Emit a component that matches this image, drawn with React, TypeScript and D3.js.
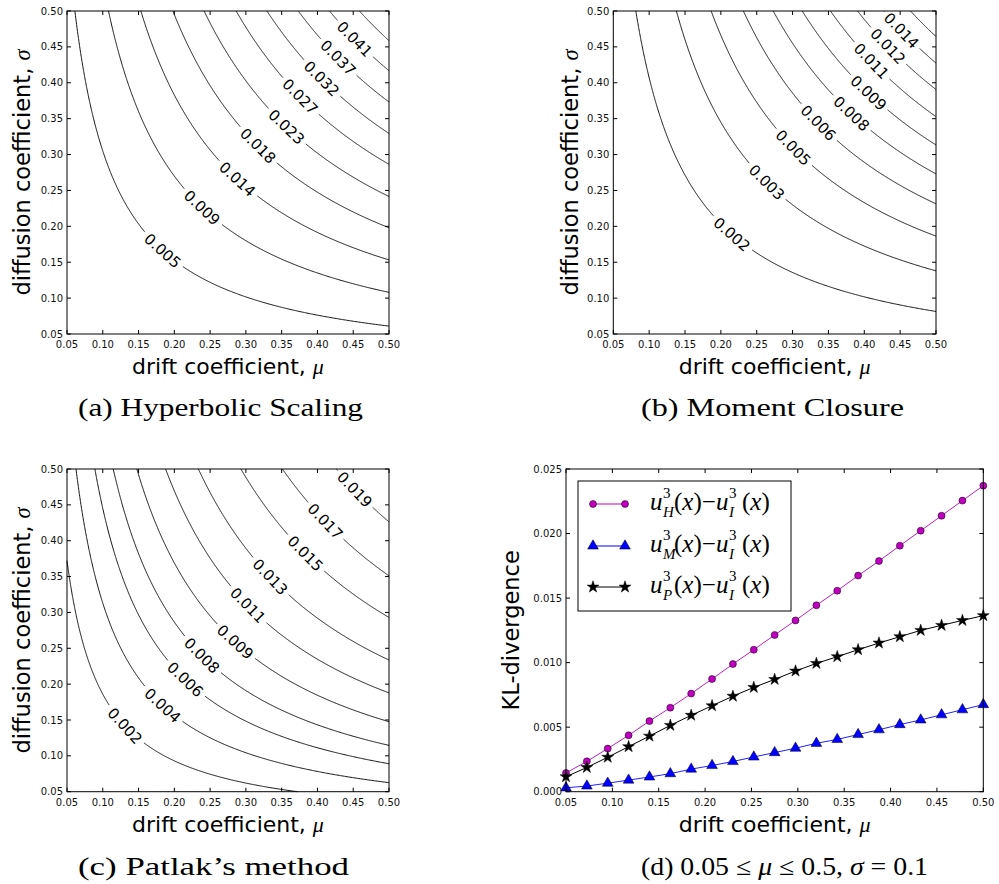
import React from 'react';
import * as d3 from 'd3';

// ---------- data ----------
const muTicks = [0.05, 0.1, 0.15, 0.2, 0.25, 0.3, 0.35, 0.4, 0.45, 0.5];
const sigmaTicks = [0.05, 0.1, 0.15, 0.2, 0.25, 0.3, 0.35, 0.4, 0.45, 0.5];
const tickLabels = ['0.05', '0.10', '0.15', '0.20', '0.25', '0.30', '0.35', '0.40', '0.45', '0.50'];

// contour levels expressed as the product mu*sigma along each iso-line
const hyperProducts = [0.0305, 0.054, 0.0766, 0.099, 0.1208, 0.1432, 0.1647, 0.1866, 0.2084, 0.2293];
const hyperLabels = ['0.005', '0.009', '0.014', '0.018', '0.023', '0.027', '0.032', '0.037', '0.041', ''];
const hyperLabelMu = [0.184, 0.239, 0.288, 0.317, 0.357, 0.376, 0.406, 0.429, 0.452, 0];

const momentProducts = [0.0407, 0.069, 0.0932, 0.1157, 0.1365, 0.1567, 0.1764, 0.1953, 0.2137, 0.2322];
const momentLabels = ['0.002', '0.003', '0.005', '0.006', '0.008', '0.009', '0.011', '0.012', '0.014', ''];
const momentLabelMu = [0.215, 0.264, 0.301, 0.336, 0.382, 0.406, 0.41, 0.433, 0.452, 0];

const patlakProducts = [0.0186, 0.0313, 0.0445, 0.0573, 0.0738, 0.0939, 0.1168, 0.1465, 0.1755, 0.2131];
const patlakLabels = ['0.002', '0.004', '0.006', '0.008', '0.009', '0.011', '0.013', '0.015', '0.017', '0.019'];
const patlakLabelMu = [0.131, 0.184, 0.215, 0.239, 0.285, 0.303, 0.334, 0.383, 0.411, 0.452];

// panel (d)
const klMu = [0.05, 0.0725, 0.095, 0.1175, 0.14, 0.1625, 0.185, 0.2075, 0.23, 0.2525, 0.275,
  0.2975, 0.32, 0.3425, 0.365, 0.3875, 0.41, 0.4325, 0.455, 0.4775, 0.5];
const klH = [0.00145, 0.00235, 0.00334, 0.00437, 0.00547, 0.00651, 0.0076, 0.00873, 0.00989, 0.011, 0.01214,
  0.01327, 0.01444, 0.01557, 0.01674, 0.01787, 0.01906, 0.02022, 0.02138, 0.02255, 0.02371];
const klM = [0.0003, 0.00044, 0.00066, 0.0009, 0.00114, 0.0014, 0.00175, 0.00203, 0.00234, 0.00269, 0.00303,
  0.00337, 0.00375, 0.00405, 0.00443, 0.0048, 0.0052, 0.00556, 0.00596, 0.00635, 0.00675];
const klP = [0.00116, 0.00188, 0.00267, 0.00349, 0.00431, 0.00514, 0.00592, 0.00666, 0.0074, 0.00808, 0.0087,
  0.00935, 0.00994, 0.01046, 0.011, 0.01152, 0.01201, 0.0125, 0.01289, 0.01327, 0.01364];
const klTicks = [0, 0.005, 0.01, 0.015, 0.02, 0.025];
const klTickLabels = ['0.000', '0.005', '0.010', '0.015', '0.020', '0.025'];
const legendSubs = ['H', 'M', 'P'];

const SANS = 'DejaVu Sans';
const SERIF = 'Liberation Serif';

type Box = { x0: number; x1: number; y0: number; y1: number };

function Frame({ b, xs, ys, xt, yt, xl, yl }: any) {
  const L = 4;
  return (
    <g>
      <rect x={b.x0} y={b.y0} width={b.x1 - b.x0} height={b.y1 - b.y0} fill="none" stroke="#000" strokeWidth={1} />
      {xt.map((t: number, i: number) => (
        <g key={'x' + i}>
          <line x1={xs(t)} x2={xs(t)} y1={b.y1} y2={b.y1 - L} stroke="#000" />
          <line x1={xs(t)} x2={xs(t)} y1={b.y0} y2={b.y0 + L} stroke="#000" />
          <text x={xs(t)} y={b.y1 + 14} fontFamily={SANS} fontSize={10} textAnchor="middle" fill="#111">{xl[i]}</text>
        </g>
      ))}
      {yt.map((t: number, i: number) => (
        <g key={'y' + i}>
          <line x1={b.x0} x2={b.x0 + L} y1={ys(t)} y2={ys(t)} stroke="#000" />
          <line x1={b.x1} x2={b.x1 - L} y1={ys(t)} y2={ys(t)} stroke="#000" />
          <text x={b.x0 - 4} y={ys(t) + 3.6} fontFamily={SANS} fontSize={10} textAnchor="end" fill="#111">{yl[i]}</text>
        </g>
      ))}
    </g>
  );
}

function ContourPanel({ b, products, labels, labelMu }: { b: Box; products: number[]; labels: string[]; labelMu: number[] }) {
  const xs = d3.scaleLinear().domain([0.05, 0.5]).range([b.x0, b.x1]);
  const ys = d3.scaleLinear().domain([0.05, 0.5]).range([b.y1, b.y0]);
  const line = d3.line<[number, number]>();
  const fs = 15;
  const items = products.map((P, i) => {
    const muMin = Math.max(0.05, P / 0.5);
    const muMax = Math.min(0.5, P / 0.05);
    const N = 500;
    const pts: [number, number][] = d3.range(N + 1).map((j) => {
      const mu = muMin * Math.pow(muMax / muMin, j / N);
      return [xs(mu), ys(P / mu)];
    });
    const s: number[] = [0];
    for (let k = 1; k < pts.length; k++) s.push(s[k - 1] + Math.hypot(pts[k][0] - pts[k - 1][0], pts[k][1] - pts[k - 1][1]));
    const lab = labels[i];
    if (!lab) return { paths: [line(pts)], label: null };
    const tx = xs(labelMu[i]);
    let kb = 0;
    pts.forEach((p, k) => { if (Math.abs(p[0] - tx) < Math.abs(pts[kb][0] - tx)) kb = k; });
    const s0 = s[kb];
    const w = fs * (0.636 * 4 + 0.318);
    const half = w / 2 + 4;
    const seg1 = pts.filter((_, k) => s[k] <= s0 - half);
    const seg2 = pts.filter((_, k) => s[k] >= s0 + half);
    const ia = pts.findIndex((_, k) => s[k] >= s0 - 8);
    let ib = pts.findIndex((_, k) => s[k] >= s0 + 8);
    if (ib < 0) ib = pts.length - 1;
    const ang = (Math.atan2(pts[ib][1] - pts[ia][1], pts[ib][0] - pts[ia][0]) * 180) / Math.PI;
    return {
      paths: [seg1.length > 1 ? line(seg1) : null, seg2.length > 1 ? line(seg2) : null],
      label: { x: pts[kb][0], y: pts[kb][1], ang, text: lab },
    };
  });
  return (
    <g>
      {items.map((it, i) => (
        <g key={i}>
          {it.paths.map((d, j) => d && <path key={j} d={d} fill="none" stroke="#111" strokeWidth={1} />)}
          {it.label && (
            <text
              transform={`translate(${it.label.x},${it.label.y}) rotate(${it.label.ang})`}
              fontFamily={SANS} fontSize={fs} textAnchor="middle" dy="0.36em" fill="#000"
            >{it.label.text}</text>
          )}
        </g>
      ))}
      <Frame b={b} xs={xs} ys={ys} xt={muTicks} yt={sigmaTicks} xl={tickLabels} yl={tickLabels} />
    </g>
  );
}

function YLabel({ x, y, text, greek }: any) {
  return (
    <text transform={`translate(${x},${y}) rotate(-90)`} textAnchor="middle" fontFamily={SANS} fontSize={22.5} fill="#000">
      {text}
      {greek && <tspan fontFamily={SERIF} fontStyle="italic">{greek}</tspan>}
    </text>
  );
}

function XLabel({ x, y }: any) {
  return (
    <text x={x} y={y} textAnchor="middle" fontFamily={SANS} fontSize={22} fill="#000">
      drift coefficient, <tspan fontFamily={SERIF} fontStyle="italic">μ</tspan>
    </text>
  );
}

function MathLabel({ x, y, sub }: { x: number; y: number; sub: string }) {
  const F = 25, f = 15;
  const t = (dx: number, dy: number, size: number, italic: boolean, s: string) => (
    <text x={x + dx} y={y + dy} fontFamily={SERIF} fontSize={size} fontStyle={italic ? 'italic' : 'normal'} fill="#000">{s}</text>
  );
  return (
    <g>
      {t(0, 0, F, true, 'u')}
      {t(13, -12, f, false, '3')}
      {t(13, 7, f, true, sub)}
      <text x={x + 24} y={y} fontFamily={SERIF} fontSize={F} fill="#000">
        (<tspan fontStyle="italic">x</tspan>)−<tspan fontStyle="italic">u</tspan>
      </text>
      {t(79, -12, f, false, '3')}
      {t(79, 7, f, true, 'I')}
      <text x={x + 92} y={y} fontFamily={SERIF} fontSize={F} fill="#000">
        (<tspan fontStyle="italic">x</tspan>)
      </text>
    </g>
  );
}

function KLPanel({ b }: { b: Box }) {
  const xs = d3.scaleLinear().domain([0.05, 0.5]).range([b.x0, b.x1]);
  const ys = d3.scaleLinear().domain([0, 0.025]).range([b.y1, b.y0]);
  const line = d3.line<number>().x((_, i) => xs(klMu[i])).y((v) => ys(v));
  const tri = d3.symbol().type(d3.symbolTriangle).size(50)() as string;
  const star = d3.symbol().type(d3.symbolStar).size(44)() as string;
  const circle = (cx: number, cy: number, k: any) => (
    <circle key={k} cx={cx} cy={cy} r={3.5} fill="#bf00bf" stroke="#000" strokeWidth={0.5} />
  );
  const triM = (cx: number, cy: number, k: any) => (
    <path key={k} d={tri} transform={`translate(${cx},${cy})`} fill="#0000ff" stroke="#000" strokeWidth={0.5} />
  );
  const starM = (cx: number, cy: number, k: any) => (
    <path key={k} d={star} transform={`translate(${cx},${cy})`} fill="#000" stroke="#000" strokeWidth={0.5} />
  );
  const legRows = [
    { color: '#bf00bf', mk: circle },
    { color: '#0000ff', mk: triM },
    { color: '#000', mk: starM },
  ];
  const lx0 = 578, ly0 = 481, lw = 213, lh = 130;
  const rowY = [504, 546, 587];
  return (
    <g>
      <path d={line(klH) as string} fill="none" stroke="#c020c8" strokeWidth={1} />
      <path d={line(klM) as string} fill="none" stroke="#2020ff" strokeWidth={1} />
      <path d={line(klP) as string} fill="none" stroke="#000" strokeWidth={1} />
      {klH.map((v, i) => circle(xs(klMu[i]), ys(v), 'h' + i))}
      {klM.map((v, i) => triM(xs(klMu[i]), ys(v), 'm' + i))}
      {klP.map((v, i) => starM(xs(klMu[i]), ys(v), 'p' + i))}
      <Frame b={b} xs={xs} ys={ys} xt={muTicks} yt={klTicks} xl={tickLabels} yl={klTickLabels} />
      <rect x={lx0} y={ly0} width={lw} height={lh} fill="#fff" stroke="#000" strokeWidth={1} />
      {legRows.map((r, i) => (
        <g key={i}>
          <line x1={593} x2={625} y1={rowY[i]} y2={rowY[i]} stroke={r.color} strokeWidth={1} />
          {r.mk(593, rowY[i], 'a')}
          {r.mk(625, rowY[i], 'b')}
          <MathLabel x={650} y={rowY[i] + 6} sub={legendSubs[i]} />
        </g>
      ))}
    </g>
  );
}

export default function App() {
  const A: Box = { x0: 67, x1: 389, y0: 11, y1: 334 };
  const B: Box = { x0: 613.3, x1: 936, y0: 11, y1: 334 };
  const C: Box = { x0: 67, x1: 389, y0: 469, y1: 791.7 };
  const D: Box = { x0: 566, x1: 983.3, y0: 469, y1: 791.7 };
  const cap = (x: number, y: number, len: number, children: any) => (
    <text x={x} y={y} fontFamily={SERIF} fontSize={25} fill="#000" textLength={len} lengthAdjust="spacingAndGlyphs">{children}</text>
  );
  return (
    <svg width={999} height={884} style={{ position: 'absolute', left: 0, top: 0, background: '#fff' }}>
      <rect x={0} y={0} width={999} height={884} fill="#fff" />
      <ContourPanel b={A} products={hyperProducts} labels={hyperLabels} labelMu={hyperLabelMu} />
      <ContourPanel b={B} products={momentProducts} labels={momentLabels} labelMu={momentLabelMu} />
      <ContourPanel b={C} products={patlakProducts} labels={patlakLabels} labelMu={patlakLabelMu} />
      <KLPanel b={D} />

      <YLabel x={30} y={(A.y0 + A.y1) / 2} text="diffusion coefficient, " greek="σ" />
      <YLabel x={578} y={(B.y0 + B.y1) / 2} text="diffusion coefficient, " greek="σ" />
      <YLabel x={30} y={(C.y0 + C.y1) / 2} text="diffusion coefficient, " greek="σ" />
      <YLabel x={519} y={(D.y0 + D.y1) / 2} text="KL-divergence" />

      <XLabel x={(A.x0 + A.x1) / 2} y={A.y1 + 40} />
      <XLabel x={(B.x0 + B.x1) / 2} y={B.y1 + 40} />
      <XLabel x={(C.x0 + C.x1) / 2} y={C.y1 + 40} />
      <XLabel x={(D.x0 + D.x1) / 2} y={D.y1 + 40} />

      {cap(78, 416, 285, '(a) Hyperbolic Scaling')}
      {cap(641, 416, 263, '(b) Moment Closure')}
      {cap(78, 875, 271, '(c) Patlak’s method')}
      {cap(641, 875, 287, <>
        (d) 0.05 ≤ <tspan fontStyle="italic">μ</tspan> ≤ 0.5, <tspan fontStyle="italic">σ</tspan> = 0.1
      </>)}
    </svg>
  );
}
